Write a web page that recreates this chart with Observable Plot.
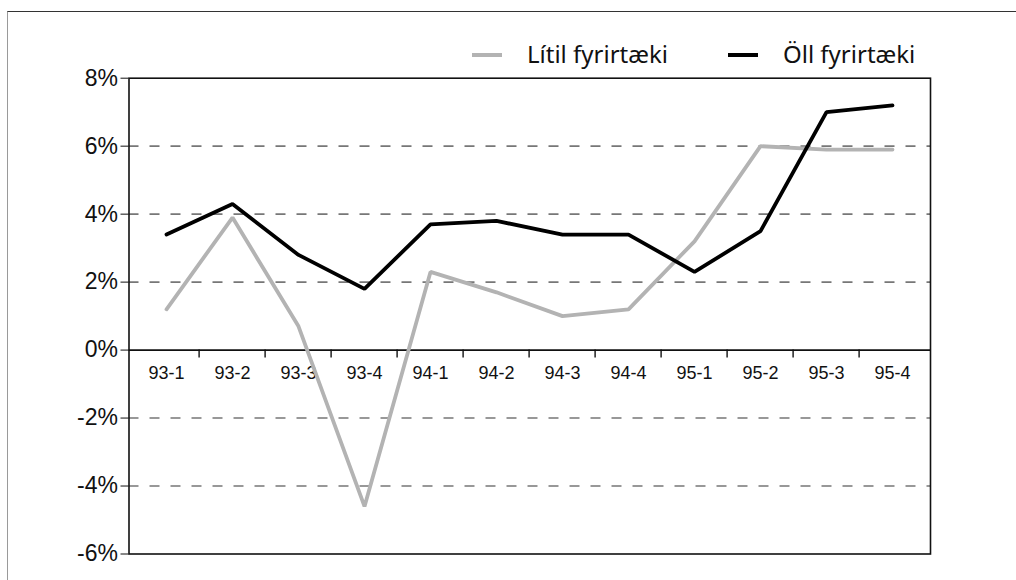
<!DOCTYPE html>
<html>
<head>
<meta charset="utf-8">
<script src="https://cdn.jsdelivr.net/npm/d3@7"></script>
<script src="https://cdn.jsdelivr.net/npm/@observablehq/plot@0.6"></script>
<style>
  html, body { margin: 0; padding: 0; background: white; overflow: hidden; }
  #wrap { position: relative; width: 1016px; height: 580px; overflow: hidden; }
  #border { position: absolute; left: 7px; top: 11px; width: 3000px; height: 3000px;
            border-left: 1.5px solid #9a9a9a; border-top: 1.5px solid #333; pointer-events: none; }
  #chart { position: absolute; left: 0; top: 0; }
</style>
</head>
<body>
<div id="wrap"><div id="chart"></div><div id="border"></div></div>
<script>
const categories = ["93-1","93-2","93-3","93-4","94-1","94-2","94-3","94-4","95-1","95-2","95-3","95-4"];
const smallFirms = [1.2, 3.9, 0.7, -4.6, 2.3, 1.7, 1.0, 1.2, 3.2, 6.0, 5.9, 5.9];
const allFirms   = [3.4, 4.3, 2.8, 1.8, 3.7, 3.8, 3.4, 3.4, 2.3, 3.5, 7.0, 7.2];
const yTicks = [-6, -4, -2, 0, 2, 4, 6, 8];
const gridValues = [-4, -2, 2, 4, 6];
const seriesNames = ["Lítil fyrirtæki", "Öll fyrirtæki"];
const seriesColors = ["#b3b3b3", "#000000"];

const W = 1016, H = 580;
const mL = 128.5, mR = 86, mT = 77.7, mB = 26.5;
const step = (W - mL - mR) / categories.length;

const rows = [];
categories.forEach((c, i) => {
  rows.push({cat: c, value: smallFirms[i], series: seriesNames[0]});
  rows.push({cat: c, value: allFirms[i], series: seriesNames[1]});
});

const plot = Plot.plot({
  width: W, height: H,
  marginLeft: mL, marginRight: mR, marginTop: mT, marginBottom: mB,
  style: {fontFamily: "'Liberation Sans', Arial, sans-serif", fontSize: "23px", color: "#111", background: "white", overflow: "visible"},
  x: {type: "point", domain: categories, padding: 0.5, axis: null},
  y: {domain: [-6, 8], ticks: yTicks, tickFormat: d => d + "%", tickSize: 8, tickPadding: 3, label: null},
  color: {domain: seriesNames, range: seriesColors},
  marks: [
    Plot.ruleY(gridValues, {stroke: "#777", strokeWidth: 1.6, strokeDasharray: "10,11"}),
    Plot.ruleY([0], {stroke: "#111", strokeWidth: 1.6}),
    Plot.ruleX(categories.slice(1), {x: d => d, y1: 0, y2: 0, insetBottom: -8, dx: -step / 2, stroke: "#111", strokeWidth: 1.4}),
    Plot.text(categories, {x: d => d, y: 0, dy: 16, lineAnchor: "top", fontSize: 18, fill: "#111"}),
    Plot.line(rows.filter(d => d.series === seriesNames[0]), {x: "cat", y: "value", stroke: "series", strokeWidth: 3.8, strokeLinejoin: "miter"}),
    Plot.line(rows.filter(d => d.series === seriesNames[1]), {x: "cat", y: "value", stroke: "series", strokeWidth: 3.8, strokeLinejoin: "miter"}),
    Plot.frame({stroke: "#111", strokeWidth: 1.6})
  ]
});
document.getElementById("chart").appendChild(plot);

// legend drawn into the svg above the plot frame
const svg = d3.select(plot);
const legend = svg.append("g")
  .attr("font-family", "'Noto Sans', 'Open Sans', sans-serif")
  .attr("font-size", 24).attr("fill", "#111").attr("text-anchor", "start");
const legendX = [472, 728];
seriesNames.forEach((name, i) => {
  const g = legend.append("g").attr("transform", `translate(${legendX[i]},55)`);
  g.append("line").attr("x1", 0).attr("x2", 30).attr("y1", 0).attr("y2", 0)
    .attr("stroke", seriesColors[i]).attr("stroke-width", 4);
  g.append("text").attr("x", 55).attr("y", 8).attr("text-anchor", "start").text(name);
});
</script>
</body>
</html>
